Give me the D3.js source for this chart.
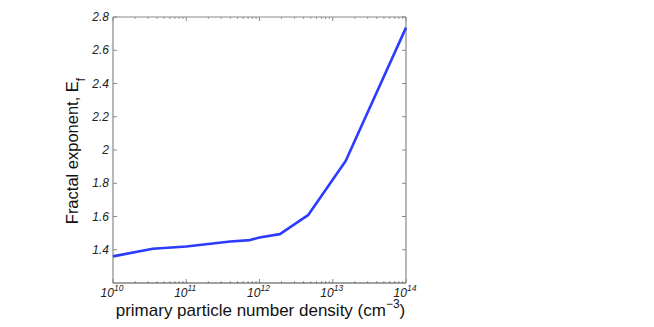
<!DOCTYPE html>
<html>
  <head>
    <meta http-equiv="Content-Type" content="text/html;charset=utf-8"/>
    <script src="https://cdn.jsdelivr.net/npm/d3@7/dist/d3.min.js"></script>
    <style>
      body { margin: 0; background: #fff; }
      text { font-family: "Liberation Sans", Arial, sans-serif; }
    </style>
  </head>
  <body>
    <svg id="target"></svg>
  </body>
  <script>
    // data
    var density = [1e10, 3.5e10, 1e11, 4e11, 7.4e11, 1e12, 1.9e12, 4.6e12, 1.5e13, 1e14];
    var exponent = [1.36, 1.406, 1.42, 1.45, 1.458, 1.474, 1.494, 1.608, 1.934, 2.736];
    var yTicks = [1.4, 1.6, 1.8, 2, 2.2, 2.4, 2.6, 2.8];
    var yTickLabels = ["1.4", "1.6", "1.8", "2", "2.2", "2.4", "2.6", "2.8"];
    var xTicks = [1e10, 1e11, 1e12, 1e13, 1e14];
    var xExponents = ["10", "11", "12", "13", "14"];

    var width = 654, height = 327;
    var pLeft = 113, pRight = 406, pTop = 17, pBottom = 283;

    var svg = d3.select("#target").attr("width", width).attr("height", height);

    var x = d3.scaleLog().domain([1e10, 1e14]).range([pLeft, pRight]);
    var y = d3.scaleLinear().domain([1.2, 2.8]).range([pBottom, pTop]);

    // minor log ticks (inside, top and bottom)
    var minor = [];
    for (var e = 10; e < 14; e++) {
      for (var m = 2; m <= 9; m++) minor.push(m * Math.pow(10, e));
    }

    var gx = svg.append("g");
    gx.selectAll(".minb").data(minor).enter().append("line")
      .attr("x1", d => x(d)).attr("x2", d => x(d))
      .attr("y1", pBottom).attr("y2", pBottom - 2)
      .attr("stroke", "#999").attr("stroke-width", 1);
    gx.selectAll(".mint").data(minor).enter().append("line")
      .attr("x1", d => x(d)).attr("x2", d => x(d))
      .attr("y1", pTop).attr("y2", pTop + 2)
      .attr("stroke", "#999").attr("stroke-width", 1);
    gx.selectAll(".majb").data(xTicks).enter().append("line")
      .attr("x1", d => x(d)).attr("x2", d => x(d))
      .attr("y1", pBottom).attr("y2", pBottom - 4)
      .attr("stroke", "#888").attr("stroke-width", 1);
    gx.selectAll(".majt").data(xTicks).enter().append("line")
      .attr("x1", d => x(d)).attr("x2", d => x(d))
      .attr("y1", pTop).attr("y2", pTop + 4)
      .attr("stroke", "#888").attr("stroke-width", 1);

    var gy = svg.append("g");
    gy.selectAll(".yl").data(yTicks).enter().append("line")
      .attr("x1", pLeft).attr("x2", pLeft + 4)
      .attr("y1", d => y(d)).attr("y2", d => y(d))
      .attr("stroke", "#888");
    gy.selectAll(".yr").data(yTicks).enter().append("line")
      .attr("x1", pRight).attr("x2", pRight - 4)
      .attr("y1", d => y(d)).attr("y2", d => y(d))
      .attr("stroke", "#888");

    // frame
    svg.append("line").attr("x1", pLeft).attr("x2", pRight).attr("y1", pTop).attr("y2", pTop)
      .attr("stroke", "#888").attr("stroke-width", 1);
    svg.append("line").attr("x1", pLeft).attr("x2", pLeft).attr("y1", pTop).attr("y2", pBottom)
      .attr("stroke", "#888").attr("stroke-width", 1.2);
    svg.append("line").attr("x1", pRight).attr("x2", pRight).attr("y1", pTop).attr("y2", pBottom)
      .attr("stroke", "#888").attr("stroke-width", 1.2);
    svg.append("line").attr("x1", pLeft).attr("x2", pRight).attr("y1", pBottom).attr("y2", pBottom)
      .attr("stroke", "#444").attr("stroke-width", 1.2);

    // y tick labels
    svg.selectAll(".ylab").data(yTicks).enter().append("text")
      .attr("x", pLeft - 4).attr("y", d => y(d) + 4)
      .attr("text-anchor", "end")
      .attr("font-size", 12).attr("font-style", "italic").attr("fill", "#222")
      .text((d, i) => yTickLabels[i]);

    // x tick labels 10^n
    var xl = svg.selectAll(".xlab").data(xTicks).enter().append("text")
      .attr("x", d => x(d) - 1).attr("y", pBottom + 14)
      .attr("text-anchor", "middle")
      .attr("font-size", 12).attr("font-style", "italic").attr("fill", "#222");
    xl.append("tspan").text("10");
    xl.append("tspan").attr("dy", -6).attr("font-size", 8.5).text((d, i) => xExponents[i]);

    // line
    var line = d3.line().x((d, i) => x(density[i])).y((d, i) => y(exponent[i]));
    svg.append("path").datum(exponent)
      .attr("d", line)
      .attr("fill", "none")
      .attr("stroke", "#2b3cff")
      .attr("stroke-width", 2.6)
      .attr("stroke-linejoin", "round");

    // axis titles
    var xt = svg.append("text")
      .attr("x", (pLeft + pRight) / 2 + 1).attr("y", pBottom + 33)
      .attr("text-anchor", "middle").attr("font-size", 17).attr("fill", "#111");
    xt.append("tspan").text("primary particle number density (cm");
    xt.append("tspan").attr("dy", -8).attr("font-size", 12).text("\u22123");
    xt.append("tspan").attr("dy", 8).text(")");

    var yt = svg.append("text")
      .attr("transform", "translate(78," + ((pTop + pBottom) / 2 + 1) + ") rotate(-90)")
      .attr("text-anchor", "middle").attr("font-size", 16.5).attr("fill", "#111");
    yt.append("tspan").text("Fractal exponent, E");
    yt.append("tspan").attr("dy", 7).attr("font-size", 12).text("f");
  </script>
</html>
